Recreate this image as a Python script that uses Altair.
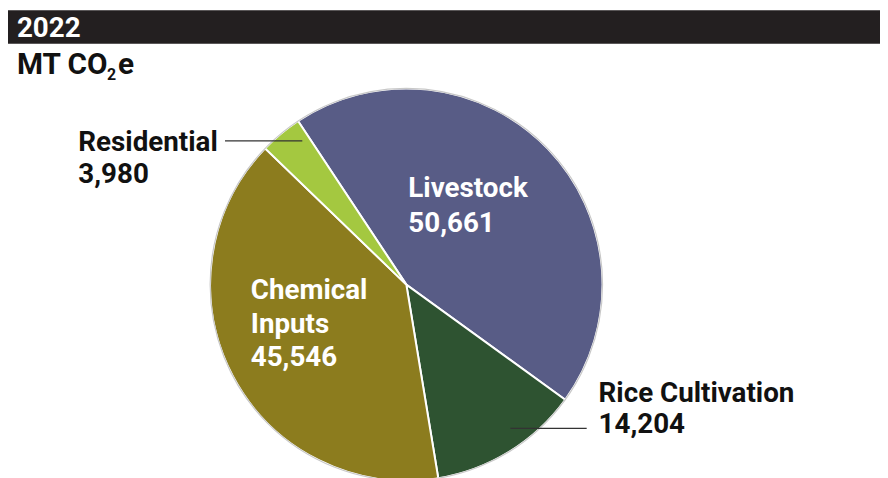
import math
import altair as alt
import pandas as pd

# ---- data ----
categories = ["Livestock", "Rice Cultivation", "Chemical Inputs", "Residential"]
values = [50661, 14204, 45546, 3980]
display_names = ["Livestock", "Rice Cultivation", "Chemical\nInputs", "Residential"]
colors = ["#585c86", "#2e5331", "#8c7c1e", "#a4c840"]
year_label = "2022"

df = pd.DataFrame({"category": categories, "value": values, "idx": list(range(len(categories)))})
labels = [f"{n}\n{v:,}" for n, v in zip(display_names, values)]

FONT = "Roboto"
W, H = 880, 470
CX, CY, R = 402, 277, 198
start = math.radians(-33.5)

one = pd.DataFrame({"a": [0]})

header = alt.Chart(one).mark_rect(color="#231f20").encode(
    x=alt.value(0), x2=alt.value(W), y=alt.value(0), y2=alt.value(34)
)

def txt(s, x, y, size, color="#111111", lh=None):
    kw = dict(font=FONT, fontWeight="bold", fontSize=size, color=color,
              align="left", baseline="alphabetic")
    if lh is not None:
        kw.update(lineBreak="\n", lineHeight=lh)
    return alt.Chart(one).mark_text(**kw).encode(
        x=alt.value(x), y=alt.value(y), text=alt.value(s)
    )

title = txt(year_label, 9, 27, 28, "white")
sub1 = txt("MT CO", 9, 64, 30)
sub2 = txt("2", 100, 71, 16)
sub3 = txt("e", 111, 64, 30)

pie = alt.Chart(df).mark_arc(radius=R, stroke="white", strokeWidth=2).encode(
    theta=alt.Theta("value:Q", stack=True,
                    scale=alt.Scale(range=[2 * math.pi + start, 4 * math.pi + start])),
    color=alt.Color("category:N", scale=alt.Scale(domain=categories, range=colors), legend=None),
    order=alt.Order("idx:Q"),
    x=alt.value(CX), y=alt.value(CY),
)

outline = alt.Chart(one).mark_arc(radius=R, fillOpacity=0, stroke="#c8c8c8", strokeWidth=1.2,
                                  theta=0, theta2=2 * math.pi).encode(
    x=alt.value(CX), y=alt.value(CY)
)

lead1 = alt.Chart(one).mark_rule(color="#333333", strokeWidth=1.3).encode(
    x=alt.value(219), x2=alt.value(297), y=alt.value(132)
)
lead2 = alt.Chart(one).mark_rule(color="#333333", strokeWidth=1.3).encode(
    x=alt.value(507), x2=alt.value(584), y=alt.value(422)
)

lab_live = txt(labels[0], 404, 189, 28, "white", 35)
lab_chem = txt(labels[2], 245, 292, 28, "white", 33.5)
lab_res = txt(labels[3], 71, 142, 28, "#111111", 32)
lab_rice = txt(labels[1], 596, 395, 28, "#111111", 32)

chart = alt.layer(
    header, title, sub1, sub2, sub3, pie, outline, lead1, lead2,
    lab_live, lab_chem, lab_res, lab_rice
).properties(width=W, height=H, padding=0, autosize="none").configure_view(stroke=None)

chart.save("out.html", embed_options={"renderer": "svg", "actions": False})
